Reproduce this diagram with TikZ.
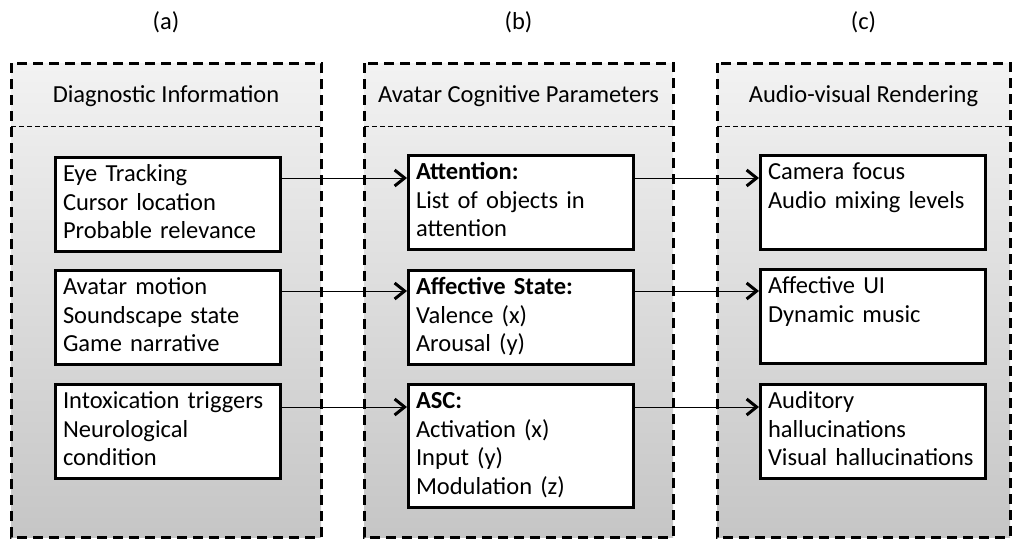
\documentclass[tikz,border=0pt]{standalone}
\usepackage{fontspec}
\setmainfont{Carlito}
\usetikzlibrary{arrows.meta}
\begin{document}
\begin{tikzpicture}[x=1pt,y=-1pt,
        font=\fontsize{24.5}{28.5}\selectfont,
        panel/.style={line width=3pt,dash pattern=on 10pt off 6pt,top color=gray!10,bottom color=gray!45},
        sep/.style={line width=1pt,dash pattern=on 5pt off 3pt},
        item/.style={draw,line width=3pt,fill=white,anchor=north west,align=left,text width=210pt,
            inner xsep=7.5pt,inner ysep=4.25pt,execute at begin node=\strut,execute at end node=\strut},
        link/.style={line width=1pt,-{Straight Barb[length=10pt,width=16pt,line width=3pt]}}]
        \useasboundingbox (0,0) rectangle (1014,541);

        \draw[panel] (11,63) rectangle (321,537);
        \draw[panel] (364,63) rectangle (673,537);
        \draw[panel] (717,63) rectangle (1010,537);
        \draw[sep] (11,126)--(321,126);
        \draw[sep] (364,126)--(673,126);
        \draw[sep] (717,126)--(1010,126);

        \node (la) at (166,22) {(a)};
        \node (lb) at (518.5,22) {(b)};
        \node (lc) at (863.5,22) {(c)};
        \node (ha) at (166,96) {Diagnostic Information};
        \node (hb) at (518.5,96) {Avatar Cognitive Parameters};
        \node (hc) at (863.5,96) {Audio-visual Rendering};

        \node[item] (a1) at (54,156) {Eye Tracking\\Cursor location\\Probable relevance};
        \node[item] (a2) at (54,269) {Avatar motion\\Soundscape state\\Game narrative};
        \node[item] (a3) at (54,383) {Intoxication triggers\\Neurological\\condition};

        \node[item] (b1) at (407,154) {\textbf{Attention:}\\List of objects in\\attention};
        \node[item] (b2) at (407,269) {\textbf{Affective State:}\\Valence (x)\\Arousal (y)};
        \node[item] (b3) at (407,383) {\textbf{ASC:}\\Activation (x)\\Input (y)\\Modulation (z)};

        \node[item] (c1) at (759,154) {Camera focus\\Audio mixing levels\\};
        \node[item] (c2) at (759,268) {Affective UI\\Dynamic music\\};
        \node[item] (c3) at (759,383) {Auditory\\hallucinations\\Visual hallucinations};

        \draw[link] ([yshift=-22pt]a1.north east)--([yshift=-22pt]a1.north east -| b1.west);
        \draw[link] ([yshift=-22pt]a2.north east)--([yshift=-22pt]a2.north east -| b2.west);
        \draw[link] ([yshift=-24pt]a3.north east)--([yshift=-24pt]a3.north east -| b3.west);
        \draw[link] ([yshift=-22pt]a1.north east -| b1.east)--([yshift=-22pt]a1.north east -| c1.west);
        \draw[link] ([yshift=-22pt]a2.north east -| b2.east)--([yshift=-22pt]a2.north east -| c2.west);
        \draw[link] ([yshift=-24pt]a3.north east -| b3.east)--([yshift=-24pt]a3.north east -| c3.west);

\end{tikzpicture}
\end{document}
